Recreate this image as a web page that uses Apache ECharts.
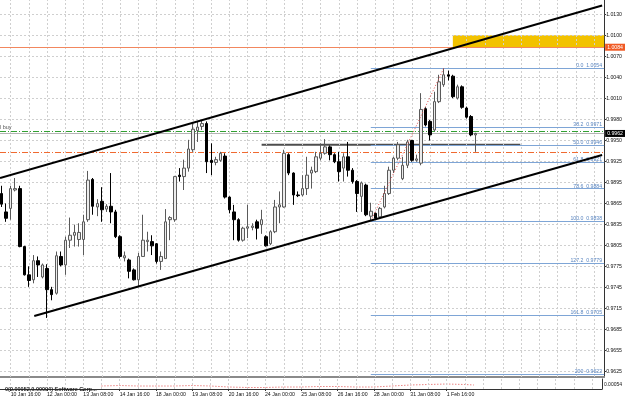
<!DOCTYPE html>
<html><head><meta charset="utf-8">
<script src="https://cdn.jsdelivr.net/npm/echarts@6/dist/echarts.min.js"></script>
<style>html,body{margin:0;padding:0;background:#fff}#c{width:625px;height:398px}</style>
</head><body><div id="c"></div>
<script>
// ---- data ----
const firstBar = -2;
const candleOpen = [0.9877,0.9851,0.9856,0.9882,0.9884,0.9802,0.9762,0.9755,0.9782,0.9759,0.9771,0.9741,0.9736,0.9788,0.9776,0.9811,0.9818,0.9812,0.9812,0.9840,0.9897,0.9858,0.9866,0.9855,0.9859,0.9851,0.9816,0.9786,0.9783,0.9769,0.9755,0.9788,0.9809,0.9809,0.9806,0.9781,0.9785,0.9840,0.9840,0.9903,0.9901,0.9913,0.9939,0.9966,0.9972,0.9976,0.9924,0.9921,0.9924,0.9930,0.9872,0.9851,0.9840,0.9811,0.9828,0.9829,0.9837,0.9833,0.9816,0.9806,0.9823,0.9858,0.9858,0.9932,0.9906,0.9875,0.9875,0.9884,0.9906,0.9908,0.9927,0.9934,0.9943,0.9932,0.9922,0.9913,0.9929,0.9910,0.9894,0.9873,0.9889,0.9845,0.9849,0.9844,0.9858,0.9877,0.9910,0.9927,0.9898,0.9917,0.9952,0.9924,0.9920,0.9997,0.9979,0.9967,1.0007,1.0031,1.0045,1.0043,1.0012,1.0028,0.9998,0.9986,0.9960];
const candleClose = [0.9862,0.9842,0.9884,0.9884,0.9802,0.9762,0.9754,0.9782,0.9776,0.9776,0.9741,0.9734,0.9789,0.9776,0.9811,0.9818,0.9822,0.9822,0.9837,0.9896,0.9859,0.9863,0.9854,0.9859,0.9851,0.9816,0.9788,0.9789,0.9767,0.9755,0.9788,0.9811,0.9811,0.9803,0.9781,0.9788,0.9837,0.9843,0.9901,0.9901,0.9913,0.9940,0.9968,0.9971,0.9976,0.9922,0.9921,0.9925,0.9934,0.9872,0.9854,0.9840,0.9811,0.9828,0.9830,0.9831,0.9828,0.9840,0.9803,0.9823,0.9858,0.9861,0.9934,0.9906,0.9875,0.9874,0.9884,0.9903,0.9910,0.9929,0.9934,0.9943,0.9932,0.9922,0.9908,0.9929,0.9910,0.9894,0.9877,0.9892,0.9847,0.9852,0.9842,0.9856,0.9877,0.9910,0.9927,0.9946,0.9917,0.9950,0.9924,0.9926,0.9996,0.9974,0.9960,1.0007,1.0035,1.0045,1.0043,1.0014,1.0028,0.9999,0.9985,0.9960,0.9962];
const candleLow = [0.9858,0.9837,0.9840,0.9880,0.9801,0.9761,0.9745,0.9750,0.9759,0.9757,0.9701,0.9726,0.9734,0.9774,0.9762,0.9800,0.9802,0.9802,0.9790,0.9837,0.9847,0.9845,0.9837,0.9851,0.9835,0.9814,0.9785,0.9781,0.9757,0.9754,0.9745,0.9788,0.9795,0.9790,0.9778,0.9769,0.9785,0.9811,0.9837,0.9894,0.9882,0.9908,0.9936,0.9950,0.9967,0.9906,0.9903,0.9917,0.9922,0.9870,0.9849,0.9811,0.9809,0.9809,0.9814,0.9825,0.9812,0.9820,0.9802,0.9804,0.9821,0.9835,0.9857,0.9903,0.9861,0.9872,0.9873,0.9875,0.9884,0.9906,0.9924,0.9932,0.9924,0.9920,0.9894,0.9894,0.9901,0.9891,0.9851,0.9851,0.9845,0.9838,0.9840,0.9842,0.9856,0.9875,0.9906,0.9924,0.9896,0.9913,0.9922,0.9922,0.9917,0.9972,0.9952,0.9965,1.0005,1.0028,1.0037,1.0012,1.0010,0.9997,0.9983,0.9958,0.9936];
const candleHigh = [0.9888,0.9863,0.9888,0.9899,0.9888,0.9803,0.9774,0.9790,0.9788,0.9778,0.9777,0.9745,0.9795,0.9795,0.9816,0.9843,0.9833,0.9835,0.9847,0.9909,0.9899,0.9869,0.9886,0.9862,0.9906,0.9854,0.9818,0.9795,0.9785,0.9771,0.9793,0.9847,0.9823,0.9818,0.9807,0.9795,0.9855,0.9845,0.9902,0.9913,0.9925,0.9953,0.9976,0.9979,0.9981,0.9979,0.9948,0.9929,0.9936,0.9934,0.9873,0.9861,0.9842,0.9830,0.9861,0.9835,0.9840,0.9854,0.9818,0.9825,0.9868,0.9880,0.9939,0.9934,0.9907,0.9880,0.9903,0.9929,0.9915,0.9936,0.9948,0.9954,0.9945,0.9934,0.9936,0.9934,0.9950,0.9913,0.9896,0.9894,0.9891,0.9864,0.9850,0.9858,0.9888,0.9915,0.9929,0.9950,0.9929,0.9953,0.9953,0.9932,1.0019,0.9999,0.9981,1.0021,1.0045,1.0054,1.0051,1.0045,1.0031,1.0030,1.0000,0.9988,0.9963];

const xTickBars = [0,8,16,24,32,40,48,56,64,72,80,88,96];
const xTickLabels = ['10 Jan 16:00','12 Jan 00:00','13 Jan 08:00','14 Jan 16:00','18 Jan 00:00','19 Jan 08:00','20 Jan 16:00','24 Jan 00:00','25 Jan 08:00','26 Jan 16:00','28 Jan 00:00','31 Jan 08:00','1 Feb 16:00'];
const xGridBars = [0,4,8,12,16,20,24,28,32,36,40,44,48,52,56,60,64,68,72,76,80,84,88,92,96,100,104,108,112,116,120,124,128];
const yTickValues = [1.01300,1.01003,1.00706,1.00409,1.00112,0.99815,0.99518,0.99221,0.98924,0.98627,0.98330,0.98033,0.97736,0.97439,0.97142,0.96845,0.96548,0.96251];
const yTickLabels = ['1.0130','1.0100','1.0070','1.0040','1.0010','0.9980','0.9950','0.9925','0.9895','0.9865','0.9835','0.9805','0.9775','0.9745','0.9715','0.9685','0.9655','0.9625'];

const fibNames = ['0.0','38.2','50.0','61.8','78.6','100.0','127.2','161.8','200'];
const fibPrices = [1.0054,0.9971,0.9946,0.9921,0.9884,0.9838,0.9779,0.9705,0.9622];
const fibAnchors = [[79,0.9838],[95,1.0054]];
const channelUpper = [[-2.34,0.9899],[129.75,1.0143]];
const channelLower = [[5.17,0.97038],[129.75,0.99315]];
const resistance = [[55.05,0.9946],[111.8,0.9946]];
const buyPrice = 0.99650;
const stopPrice = 0.99353;
const bidPrice = 0.9962;
const alertPrice = 1.0084;
const zoneBars = [97, 130.19];
const zonePrices = [1.0101, 1.0084];

const indBars = [20,24,28,32,36,40,44,48,52,56,60,64,68,72,76,80,84,88,92,96,100,102];
const indValues = [0.3,0.35,0.3,0.3,0.3,0.35,0.3,0.2,0.15,0.15,0.2,0.2,0.25,0.25,0.2,0.2,0.3,0.4,0.45,0.5,0.45,0.4];
const indTickValues = [0.9, 0.45];
const indTickLabels = ['0.00452', '0.00054'];

// ---- chart ----
const X0 = -2.344, X1 = 130.19, Y0 = 0.961748, Y1 = 1.015080;
const candles = candleOpen.map((o,i)=>[firstBar+i, o, candleClose[i], candleLow[i], candleHigh[i]]);
const gridStyle = {type:[2,2], color:'#cfcfcf', width:1};
const nearest = (arr, v) => { let b=0; arr.forEach((a,i)=>{ if (Math.abs(a-v) < Math.abs(arr[b]-v)) b=i; }); return b; };
const F = 'Liberation Sans, Arial, sans-serif';
const hLine = (p, extra) => [Object.assign({coord:[X0,p]}, extra||{}), {coord:[X1,p]}];
const vLine = (b, y0, y1) => [{coord:[b,y0]}, {coord:[b,y1]}];

const chart = echarts.init(document.getElementById('c'), null, {renderer:'canvas'});
chart.setOption({
  animation:false,
  backgroundColor:'#ffffff',
  title:{text:'0(0.00052,0.00094) Software Corp...', left:0, top:381, textStyle:{fontSize:5.5, fontWeight:'bold', color:'#222', fontFamily:F}},
  grid:[{left:0, top:0, width:605, height:377},{left:0, top:379, width:605, height:10}],
  xAxis:[
    {type:'value', gridIndex:0, min:X0, max:X1, position:'bottom', axisLine:{show:true, onZero:false, lineStyle:{color:'#8a8a8a', width:2}}, axisTick:{show:false}, axisLabel:{show:false}, splitLine:{show:false}},
    {type:'value', gridIndex:1, min:X0, max:X1, position:'bottom', axisLine:{show:true, onZero:false, lineStyle:{color:'#333', width:1}},
      axisTick:{show:true, customValues:xTickBars, length:2, lineStyle:{color:'#333'}},
      axisLabel:{show:true, customValues:xTickBars, formatter:(v)=>xTickLabels[nearest(xTickBars,v)], align:'left', fontSize:5.2, margin:3, color:'#111', fontFamily:F},
      splitLine:{show:false}}
  ],
  yAxis:[
    {type:'value', gridIndex:0, position:'right', min:Y0, max:Y1, axisLine:{show:true, onZero:false, lineStyle:{color:'#333', width:1}},
      axisTick:{show:true, customValues:yTickValues, length:2, lineStyle:{color:'#333'}},
      axisLabel:{show:true, customValues:yTickValues, formatter:(v)=>yTickLabels[nearest(yTickValues,v)], fontSize:5.2, margin:2, color:'#111', fontFamily:F},
      splitLine:{show:false}},
    {type:'value', gridIndex:1, position:'right', min:0, max:1, axisLine:{show:true, onZero:false, lineStyle:{color:'#333', width:1}},
      axisTick:{show:false},
      axisLabel:{show:true, customValues:indTickValues, formatter:(v)=>indTickLabels[nearest(indTickValues,v)], fontSize:5, margin:2, color:'#111', fontFamily:F},
      splitLine:{show:false}}
  ],
  series:[
    {type:'line', xAxisIndex:0, yAxisIndex:0, data:[], silent:true, z:1,
      markLine:{silent:true, symbol:'none', animation:false, label:{show:false}, lineStyle:gridStyle,
        data:[...yTickValues.map(v=>hLine(v)), ...xGridBars.map(b=>vLine(b,Y0,Y1))]}},
    {type:'line', xAxisIndex:1, yAxisIndex:1, data:[], silent:true, z:1,
      markLine:{silent:true, symbol:'none', animation:false, label:{show:false}, lineStyle:gridStyle,
        data:xGridBars.map(b=>vLine(b,0,1))}},
    // fibonacci levels
    {type:'line', data:[], silent:true, z:2,
      markLine:{silent:true, symbol:'none', animation:false,
        lineStyle:{color:'#7ea5d6', width:1.2, type:'solid'},
        label:{show:true, position:'insideEndTop', distance:[2,0], fontSize:5.2, color:'#5b86c0', fontFamily:F},
        data:fibPrices.map((p,i)=>[{coord:[fibAnchors[0][0],p], label:{formatter:fibNames[i]+'  '+p.toFixed(4)}},{coord:[X1,p]}])}},
    // zone and horizontal lines
    {type:'line', data:[], silent:true, z:3,
      markArea:{silent:true, itemStyle:{color:'#f2c200', opacity:1}, data:[[{coord:[zoneBars[0],zonePrices[0]]},{coord:[zoneBars[1],zonePrices[1]]}]]},
      markLine:{silent:true, symbol:'none', animation:false, label:{show:false},
        data:[
          hLine(alertPrice, {lineStyle:{color:'#f2875e', width:1, type:'solid'}, label:{show:true, position:'end', distance:1, formatter:alertPrice.toFixed(4), backgroundColor:'#f05a24', color:'#fff', fontSize:5.2, padding:[1,2,1,2], fontFamily:F}}),
          hLine(buyPrice, {lineStyle:{color:'#32a032', width:1, type:[6,2,1,2]}, label:{show:true, position:'insideStartTop', distance:[0,1], formatter:'l buy', color:'#555', fontSize:5.5, fontFamily:F}}),
          hLine(bidPrice, {lineStyle:{color:'#b4b4b4', width:1, type:'solid'}, label:{show:true, position:'end', distance:1, formatter:bidPrice.toFixed(4), backgroundColor:'#000', color:'#fff', fontSize:5.2, padding:[1,2,1,2], fontFamily:F}}),
          hLine(stopPrice, {lineStyle:{color:'#f06a30', width:1, type:[6,2,1,2]}})
        ]}},
    {type:'line', data:resistance, showSymbol:false, silent:true, z:4, lineStyle:{color:'#4d4d4d', width:2}},
    {type:'candlestick', data:candles, encode:{x:0, y:[1,2,3,4]}, barWidth:3, z:5,
      itemStyle:{color:'#ececec', color0:'#000', borderColor:'#5a5a5a', borderColor0:'#000', borderWidth:1}},
    {type:'line', data:fibAnchors, showSymbol:false, silent:true, z:6, lineStyle:{color:'#e04848', width:1, type:[1,2]}},
    {type:'line', data:channelUpper, showSymbol:false, silent:true, z:7, lineStyle:{color:'#000', width:2}},
    {type:'line', data:channelLower, showSymbol:false, silent:true, z:7, lineStyle:{color:'#000', width:2}},
    {type:'line', xAxisIndex:1, yAxisIndex:1, data:indBars.map((b,i)=>[b,indValues[i]]), showSymbol:false, silent:true, lineStyle:{color:'#e04848', width:1, type:[1,2]}}
  ]
});
</script></body></html>
